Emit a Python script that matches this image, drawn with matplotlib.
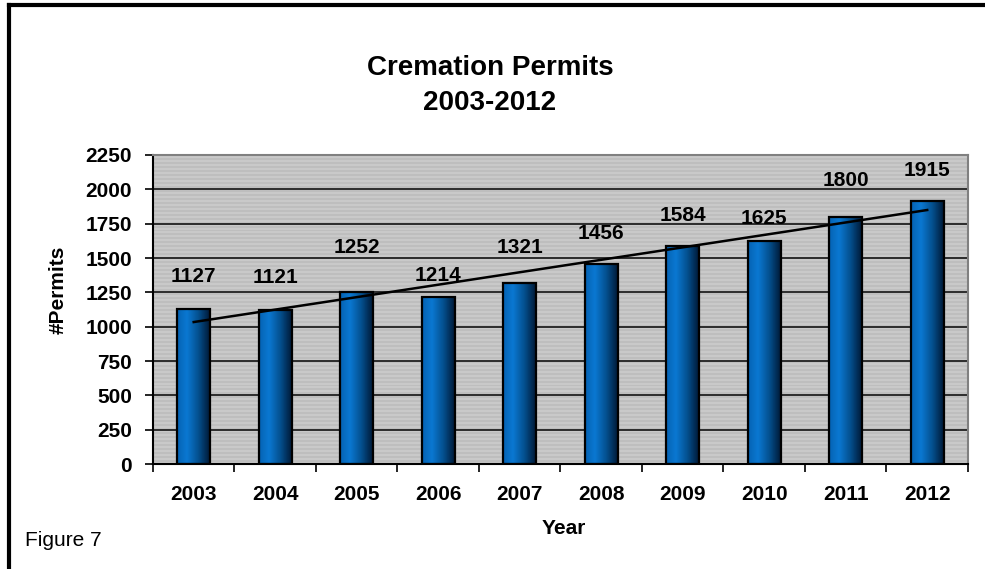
"""Cremation permits 2003-2012 — bar chart with linear trend line."""
import matplotlib

matplotlib.use("Agg")
import matplotlib.pyplot as plt
import numpy as np
from matplotlib.colors import LinearSegmentedColormap
from matplotlib.lines import Line2D

plt.rcParams["font.family"] = ["Liberation Sans", "DejaVu Sans"]

years = ["2003", "2004", "2005", "2006", "2007", "2008", "2009", "2010", "2011", "2012"]
permits = [1127, 1121, 1252, 1214, 1321, 1456, 1584, 1625, 1800, 1915]
# label heights as placed in the source chart (data units)
label_y = [1362, 1355, 1573, 1376, 1580, 1682, 1813, 1791, 2061, 2134]
yticks = [0, 250, 500, 750, 1000, 1250, 1500, 1750, 2000, 2250]

fig = plt.figure(figsize=(9.85, 5.69), dpi=100)
ax = fig.add_axes([0.1553, 0.1845, 0.8274, 0.5431])

x = np.arange(len(years))

# striped gray background
stripes = np.tile(np.array([[0.0], [1.0]]), (78, 1))
bg = LinearSegmentedColormap.from_list("bg", ["#BEBEBE", "#C9C9C9"])
ax.imshow(stripes, cmap=bg, aspect="auto", extent=[-0.5, len(years) - 0.5, 0, 2250],
          zorder=0, interpolation="nearest")

for yv in yticks[1:]:
    ax.axhline(yv, color="#202020", linewidth=1.3, zorder=1)

# gradient bars
grad = LinearSegmentedColormap.from_list(
    "bar", [(0, "#0563B4"), (0.3, "#0A78D2"), (0.65, "#04508F"), (1, "#001A38")])
gimg = np.linspace(0, 1, 64).reshape(1, -1)
bars = ax.bar(x, permits, width=0.4, facecolor="none", edgecolor="black",
              linewidth=1.6, zorder=3)
for b in bars:
    x0, y0 = b.get_x(), b.get_y()
    im = ax.imshow(gimg, cmap=grad, aspect="auto",
                   extent=[x0, x0 + b.get_width(), y0, y0 + b.get_height()], zorder=2)
    im.set_clip_path(b)

ax.set_xlim(-0.5, len(years) - 0.5)
ax.set_ylim(0, 2250)

# linear trend
coef = np.polyfit(x, permits, 1)
ax.plot(x, np.polyval(coef, x), color="black", linewidth=1.8, zorder=4)

for xi, v, ly in zip(x, permits, label_y):
    ax.text(xi, ly, f"{v}", ha="center", va="center", fontsize=15,
            fontweight="bold", zorder=5)

ax.set_yticks(yticks)
ax.set_xticks(x)
ax.set_xticklabels(years)
ax.set_xticks(np.arange(-0.5, len(years)), minor=True)
ax.tick_params(axis="x", which="major", length=0, pad=15, labelsize=15)
ax.tick_params(axis="x", which="minor", length=6, width=1.2, direction="out")
ax.tick_params(axis="y", length=6, width=1.2, direction="out", pad=9, labelsize=15)
for lab in ax.get_xticklabels() + ax.get_yticklabels():
    lab.set_fontweight("bold")

for side in ["top", "right"]:
    ax.spines[side].set_color("#808080")
    ax.spines[side].set_linewidth(1.5)
for side in ["left", "bottom"]:
    ax.spines[side].set_color("black")
    ax.spines[side].set_linewidth(1.5)

fig.text(58 / 985, 1 - 290 / 569, "#Permits", rotation=90, ha="center", va="center",
         fontsize=15, fontweight="bold")
fig.text(564 / 985, 1 - 528 / 569, "Year", ha="center", va="center",
         fontsize=15, fontweight="bold")

fig.text(490 / 985, 1 - 68 / 569, "Cremation Permits", ha="center", va="center",
         fontsize=20, fontweight="bold")
fig.text(490 / 985, 1 - 103 / 569, "2003-2012", ha="center", va="center",
         fontsize=20, fontweight="bold")
fig.text(25 / 985, 1 - 540 / 569, "Figure 7", fontsize=15, va="center")

# outer frame (left and top edges of the page box)
fig.add_artist(Line2D([0.009, 0.009], [0.0, 0.992], color="black", linewidth=3,
                      transform=fig.transFigure))
fig.add_artist(Line2D([0.009, 1.0], [0.992, 0.992], color="black", linewidth=3,
                      transform=fig.transFigure))

fig.savefig("out.png", dpi=100)
